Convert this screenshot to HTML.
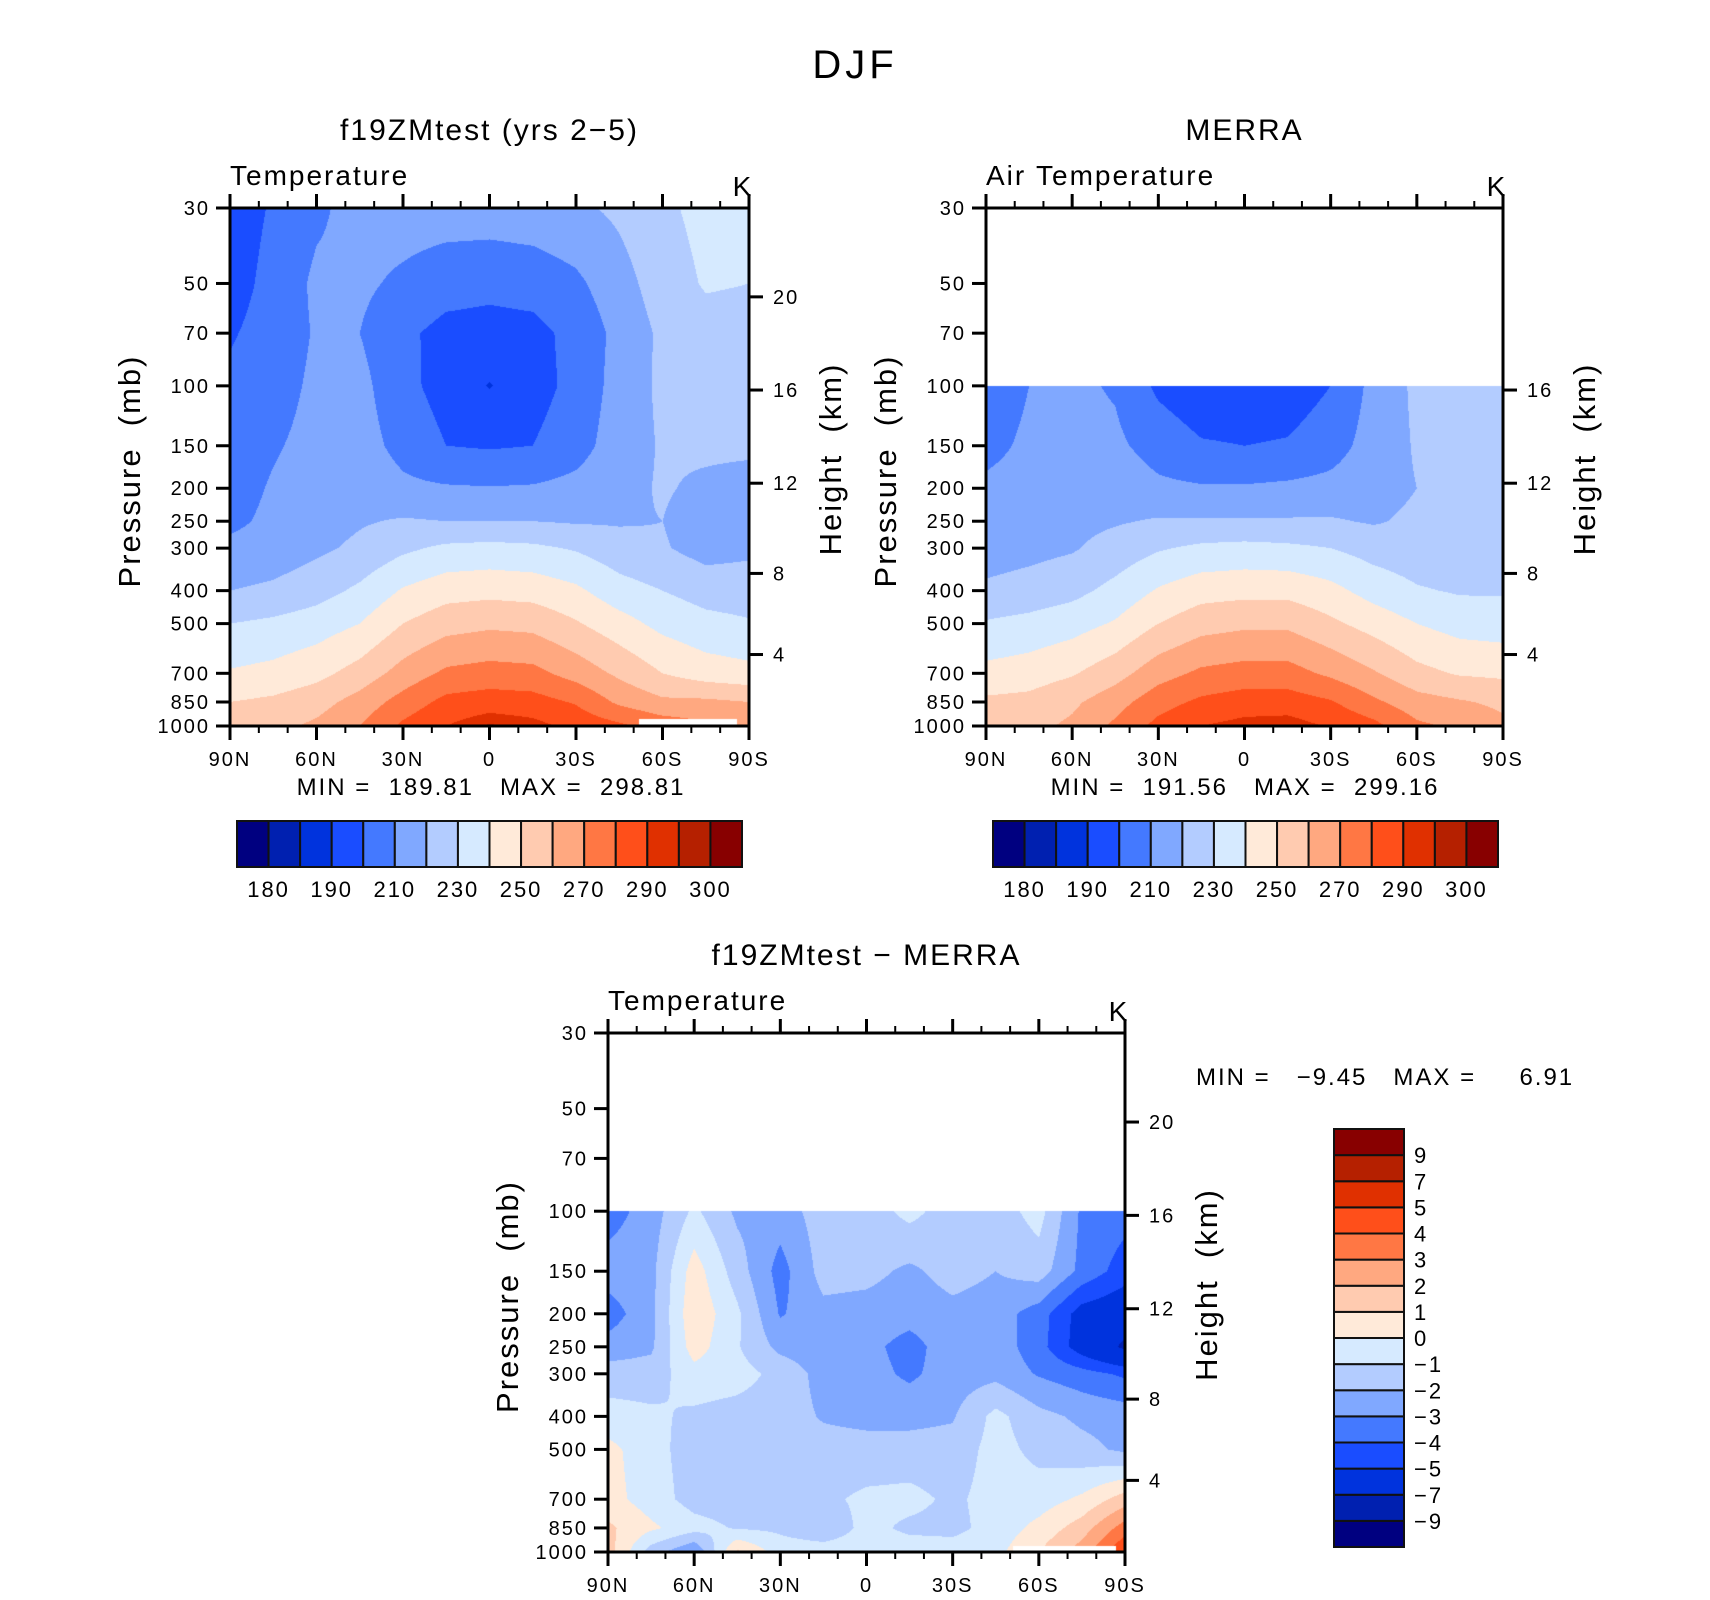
<!DOCTYPE html>
<html><head><meta charset="utf-8">
<style>
html,body{margin:0;padding:0;background:#fff;}
#root{position:relative;width:1710px;height:1600px;overflow:hidden;font-family:"Liberation Sans",sans-serif;}
canvas{position:absolute;}
svg{position:absolute;left:0;top:0;}
</style></head>
<body>
<div id="root">
<canvas id="c1"></canvas>
<canvas id="c2"></canvas>
<canvas id="c3"></canvas>
<svg id="ov" width="1710" height="1600"></svg>
</div>
<script>
// ---------- data ----------
const lats = [90,75,60,45,30,15,0,-15,-30,-45,-60,-75,-90];
const pLevelsFull = [30,50,70,100,150,200,250,300,400,500,700,850,1000];
const pLevelsObs = [100,150,200,250,300,400,500,700,850,1000];
const pTicks = [30,50,70,100,150,200,250,300,400,500,700,850,1000];
const latTicks = [90,60,30,0,-30,-60,-90];
const latTickLabels = ["90N","60N","30N","0","30S","60S","90S"];
const heightTicks = [4,8,12,16,20];
const tempLevels = [180,185,190,200,210,220,230,240,250,260,270,280,290,295,300];
const tempLevelLabels = ["180","190","210","230","250","270","290","300"];
const diffLevels = [-9,-7,-5,-4,-3,-2,-1,0,1,2,3,4,5,7,9];
const diffLevelLabels = ["\u22129","\u22127","\u22125","\u22124","\u22123","\u22122","\u22121","0","1","2","3","4","5","7","9"];
const palette = ["#000080","#0020b0","#0033dd","#1a4dff","#4479ff","#80a8ff","#b3ccff","#d6eaff","#ffead9","#ffcbb0","#ffa880","#ff7744","#ff4f1a","#e03000","#b52000","#880000"];

const modelT = [
 [195,201,208,214,215,215,215,216,218,222,228,233,234],
 [196,203,212,212,208,204,203,204,208,216,225,231,230],
 [199,204,211,210,202,197,196,197,203,213,222,226,226],
 [202,206,212,213,203,196,189.5,196,203,214,222,224,224],
 [204,209,213,214,207,200,199,200,206,215,221,222,222],
 [206,211,214,216,212,211,210.5,211,213,217,221,218,216],
 [208,212,216,219,221,220,220,220,219,219,220,215,215],
 [212,214,218,222,228,232,233,232,229,224,221,216,218],
 [220,222,226,232,241,246,247,246,242,234,230,226,225],
 [230,232,235,240,250,256,258,257,251,244,237,233,231],
 [241,243,247,254,264,272,274,273,266,258,250,245,243],
 [250,252,256,264,274,283,285,284,279,268,262,262,260],
 [255,257,262,270,282,290,296,293,287,282,276,272,270]
];
const merraT = [
 [203,210,212,209,198,193,193,194,200,213,222,223,223],
 [207,212,213,212,206,201,200,201,206,214,221,222,222],
 [212,214,215,216,212,211,211,212,213,216,220,222,222],
 [213,215,217,219,221,221,221,221,221,219,222,222,222],
 [215,217,219,224,229,232,233,232,230,226,224,223,221],
 [222,224,227,233,241,246,247,247,243,236,231,229,229],
 [231,233,236,241,250,256,258,258,252,246,240,236,235],
 [243,245,249,256,266,272,274,274,268,261,253,249,248],
 [252,253,258,266,276,282,285,285,281,272,264,261,258],
 [256,257,262,272,283,290,293,294,289,283,272,268,262]
];
const diffT = [
 [-3.5,-2.5,-0.8,-2.2,-2.5,-1.5,-1.5,-0.7,-1.5,-1.5,-0.6,-3.2,-3.6],
 [-2.5,-2.3,0.5,-1.5,-3.4,-1.6,-1.7,-2.2,-1.6,-2.0,-1.5,-3.3,-4.5],
 [-3.5,-2.3,0.8,-0.8,-3.1,-2.3,-2.4,-2.6,-2.3,-2.5,-3.5,-5.5,-6.0],
 [-2.6,-2.2,0.5,-0.9,-2.3,-2.6,-2.7,-3.4,-2.4,-2.4,-3.6,-5.6,-7.3],
 [-1.5,-1.5,-0.4,-0.6,-1.3,-2.4,-2.6,-3.2,-2.5,-2.3,-3.1,-3.6,-4.2],
 [-0.6,-0.8,-1.2,-1.4,-1.5,-2.1,-2.3,-2.3,-2.1,-0.7,-1.7,-2.2,-2.4],
 [0.3,-0.6,-1.5,-1.5,-1.5,-1.6,-1.6,-1.6,-1.6,-0.6,-1.3,-1.7,-2.2],
 [0.4,-0.5,-1.4,-1.5,-1.5,-1.2,-0.8,-0.7,-1.2,-0.6,-0.5,0.2,1.5],
 [1.2,0.2,-0.6,-1.1,-1.2,-1.7,-0.7,-1.2,-1.3,-0.6,0.3,1.5,3.5],
 [1.5,-1.5,-3.0,1.2,-0.5,-0.5,-0.5,-0.5,-0.5,-0.3,1.0,2.5,5.0]
];
// below-ground masks: [latNorth, latSouth, pTop]
const mask1 = [[-52,-86,955]];
const mask3 = [[-51,-87,960]];

// ---------- helpers ----------
const NS="http://www.w3.org/2000/svg";
const ov=document.getElementById('ov');
const P0=30,P1=1000;
function heightToP(z){ if(z<=11) return 1013.25*Math.pow(1-z/44.33,5.256); return 226.3*Math.exp(-(z-11)/6.342);}
function mk(tag,attrs,parent){const e=document.createElementNS(NS,tag);for(const k in attrs)e.setAttribute(k,attrs[k]);(parent||ov).appendChild(e);return e;}
function txt(x,y,s,size,anchor,parent,extra){const t=mk('text',Object.assign({x:x,y:y,'font-size':size,'text-anchor':anchor||'middle','font-family':'Liberation Sans, sans-serif',fill:'#000','letter-spacing':Math.round(size*0.08)},extra||{}),parent);t.textContent=s;return t;}
function levelIndex(v,levels){let i=0;while(i<levels.length&&v>=levels[i])i++;return i;}

function panel(cfg){
 const X=cfg.x,Y=cfg.y,W=cfg.w,H=cfg.h;
 const xOf=lat=>X+(90-lat)/180*W;
 const yOf=p=>Y+Math.log(p/P0)/Math.log(P1/P0)*H;
 const cv=document.getElementById(cfg.canvas);
 cv.width=W;cv.height=H;cv.style.left=X+'px';cv.style.top=Y+'px';
 const ctx=cv.getContext('2d');
 const img=ctx.createImageData(W,H);
 const rgb=palette.map(h=>[parseInt(h.slice(1,3),16),parseInt(h.slice(3,5),16),parseInt(h.slice(5,7),16)]);
 const lp=cfg.levels.map(p=>Math.log(p));
 for(let j=0;j<H;j++){
  const p=P0*Math.exp((j+0.5)/H*Math.log(P1/P0));
  if(p<cfg.levels[0])continue;
  const l=Math.log(p);let k=0;while(k<lp.length-2&&l>lp[k+1])k++;
  const ty=Math.min(1,Math.max(0,(l-lp[k])/(lp[k+1]-lp[k])));
  for(let i=0;i<W;i++){
   const lat=90-(i+0.5)/W*180;
   let m=false;for(const r of cfg.mask){if(lat<=r[0]&&lat>=r[1]&&p>=r[2])m=true;}
   if(m)continue;
   const fx=(90-lat)/15;let a=Math.min(11,Math.floor(fx));const tx=fx-a;
   const d=cfg.data;
   const v=(d[k][a]*(1-tx)+d[k][a+1]*tx)*(1-ty)+(d[k+1][a]*(1-tx)+d[k+1][a+1]*tx)*ty;
   const c=rgb[levelIndex(v,cfg.cl)];
   const o=(j*W+i)*4;img.data[o]=c[0];img.data[o+1]=c[1];img.data[o+2]=c[2];img.data[o+3]=255;
  }
 }
 ctx.putImageData(img,0,0);
 const g=mk('g',{});
 
 
 const fr=mk('rect',{x:X,y:Y,width:W,height:H,fill:'none',stroke:'#000','stroke-width':3},g);
 
 
 for(let lat=90;lat>=-90;lat-=10){
  const x=xOf(lat);const major=lat%30===0;const L=major?14:7;
  mk('line',{x1:x,y1:Y+H,x2:x,y2:Y+H+L,stroke:'#000','stroke-width':major?3:2},g);
  mk('line',{x1:x,y1:Y,x2:x,y2:Y-L,stroke:'#000','stroke-width':major?3:2},g);
 }
 latTicks.forEach((lat,i)=>{
  const t=txt(xOf(lat),Y+H+40,latTickLabels[i],20,'middle',g);
  
  
 });
 pTicks.forEach(p=>{
  const y=yOf(p);
  mk('line',{x1:X-14,y1:y,x2:X,y2:y,stroke:'#000','stroke-width':3},g);
  const t=txt(X-20,y+7,String(p),20,'end',g);
  
  
 });
 heightTicks.forEach(z=>{
  if(cfg.maxZ&&z>cfg.maxZ)return;
  const y=yOf(heightToP(z));
  mk('line',{x1:X+W,y1:y,x2:X+W+14,y2:y,stroke:'#000','stroke-width':3},g);
  const t=txt(X+W+24,y+7,String(z),20,'start',g);
  
  
 });
 const yl=txt(0,0,'Pressure\u00a0\u00a0(mb)',31,'middle',g,{transform:`translate(${X-90},${Y+H/2+4}) rotate(-90)`});
 
 
 const hl=txt(0,0,'Height\u00a0\u00a0(km)',31,'middle',g,{transform:`translate(${X+W+92},${Y+H/2-8}) rotate(-90)`});
 
 
 const tl=txt(X+W/2,Y-68,cfg.title,30,'middle',g);
 
 
 const vl=txt(X,Y-23,cfg.varname,28,'start',g);
 
 
 const ul=txt(X+W-6,Y-12,'K',28,'middle',g);
 
 
}

function hbar(x,y,w,h,labels,name){
 const g=mk('g',{});
 
 
 const n=palette.length,bw=w/n;
 palette.forEach((c,i)=>{
  const r=mk('rect',{x:x+i*bw,y:y,width:bw,height:h,fill:c,stroke:'#111','stroke-width':2},g);
  
  
 });
 labels.forEach((s,i)=>{
  const t=txt(x+(1+2*i)*bw,y+h+30,s,22,'middle',g);
  
  
 });
}
function vbar(x,y,w,h,labels,name){
 const g=mk('g',{});
 
 
 const n=palette.length,bh=h/n;
 palette.forEach((c,i)=>{
  const r=mk('rect',{x:x,y:y+(n-1-i)*bh,width:w,height:bh,fill:c,stroke:'#111','stroke-width':2},g);
  
  
 });
 labels.forEach((s,i)=>{
  const t=txt(x+w+10,y+(n-1-i)*bh+8,s,22,'start',g);
  
  
 });
}

const title=txt(855,78,'DJF',40,'middle',null,{'font-weight':'normal','letter-spacing':4});



panel({name:'model-panel',canvas:'c1',x:230,y:208,w:519,h:518,data:modelT,levels:pLevelsFull,cl:tempLevels,mask:mask1,title:'f19ZMtest\u00a0(yrs\u00a02\u22125)',varname:'Temperature'});
panel({name:'merra-panel',canvas:'c2',x:986,y:208,w:517,h:518,data:merraT,levels:pLevelsObs,cl:tempLevels,mask:[],title:'MERRA',varname:'Air\u00a0Temperature',maxZ:16});
panel({name:'difference-panel',canvas:'c3',x:608,y:1033,w:517,h:519,data:diffT,levels:pLevelsObs,cl:diffLevels,mask:mask3,title:'f19ZMtest\u00a0\u2212\u00a0MERRA',varname:'Temperature'});

const m1=txt(491,795,'MIN\u00a0=\u00a0\u00a0189.81\u00a0\u00a0\u00a0MAX\u00a0=\u00a0\u00a0298.81',24,'middle');


const m2=txt(1245,795,'MIN\u00a0=\u00a0\u00a0191.56\u00a0\u00a0\u00a0MAX\u00a0=\u00a0\u00a0299.16',24,'middle');


const m3=txt(1196,1085,'MIN\u00a0=\u00a0\u00a0\u00a0\u22129.45\u00a0\u00a0\u00a0MAX\u00a0=\u00a0\u00a0\u00a0\u00a0\u00a06.91',24,'start');



hbar(237,821,505,46,tempLevelLabels,'model-colorbar');
hbar(993,821,505,46,tempLevelLabels,'merra-colorbar');
vbar(1334,1129,70,418,diffLevelLabels,'difference-colorbar');
</script>
</body></html>
